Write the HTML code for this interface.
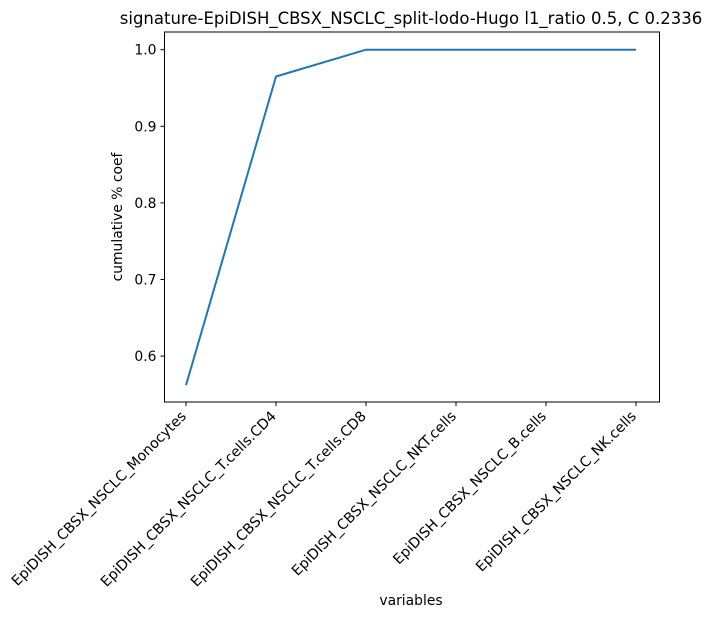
<!DOCTYPE html>
<html><head><meta charset="utf-8"><style>body{margin:0;background:#fff}svg{display:block;font-family:"DejaVu Sans","Liberation Sans",sans-serif}</style></head>
<body>
<svg id="chart" width="714" height="618" xmlns="http://www.w3.org/2000/svg"></svg>
<script>
const categories = ["EpiDISH_CBSX_NSCLC_Monocytes","EpiDISH_CBSX_NSCLC_T.cells.CD4","EpiDISH_CBSX_NSCLC_T.cells.CD8","EpiDISH_CBSX_NSCLC_NKT.cells","EpiDISH_CBSX_NSCLC_B.cells","EpiDISH_CBSX_NSCLC_NK.cells"];
const values = [0.562, 0.965, 1.0, 1.0, 1.0, 1.0];
const yTicks = [0.6, 0.7, 0.8, 0.9, 1.0];
const NS = "http://www.w3.org/2000/svg";
const svg = document.getElementById('chart');
const L=164.5, R=659.5, T=32, B=402;
const x = i => 186 + i*90;
const y = v => 49.7 + (1.0 - v)*766;
function mk(tag, attrs, parent){const e=document.createElementNS(NS,tag);for(const k in attrs)e.setAttribute(k,attrs[k]);(parent||svg).appendChild(e);return e;}
const title = mk('text',{x:411,y:24,'text-anchor':'middle','font-size':'16.5px',fill:'#000'});


title.textContent='signature-EpiDISH_CBSX_NSCLC_split-lodo-Hugo l1_ratio 0.5, C 0.2336';
yTicks.forEach(v=>{
  const t=mk('line',{x1:L-4,x2:L,y1:y(v),y2:y(v),stroke:'#000','stroke-width':1});
  
  
  const l=mk('text',{x:L-8,y:y(v)+5,'text-anchor':'end','font-size':'13.9px',fill:'#000'});
  
  
  l.textContent=v.toFixed(1);
});
categories.forEach((c,i)=>{
  const t=mk('line',{x1:x(i),x2:x(i),y1:B,y2:B+4,stroke:'#000','stroke-width':1});
  
  
  const ax=x(i)+1, ay=B+15;
  const l=mk('text',{x:ax,y:ay,'text-anchor':'end','font-size':'14.2px',fill:'#000',transform:`rotate(-45 ${ax} ${ay})`});
  
  
  l.textContent=c;
});
const line=mk('polyline',{points:values.map((v,i)=>x(i)+','+y(v)).join(' '),fill:'none',stroke:'#1f77b4','stroke-width':2,'stroke-linejoin':'round'});


const frame=mk('rect',{x:L,y:T,width:R-L,height:B-T,fill:'none',stroke:'#000','stroke-width':1});


const yl=mk('text',{x:122,y:217,'text-anchor':'middle','font-size':'13.9px',fill:'#000',transform:'rotate(-90 122 217)'});


yl.textContent='cumulative % coef';
const xl=mk('text',{x:411,y:605,'text-anchor':'middle','font-size':'13.9px',fill:'#000'});


xl.textContent='variables';
</script>
</body></html>
